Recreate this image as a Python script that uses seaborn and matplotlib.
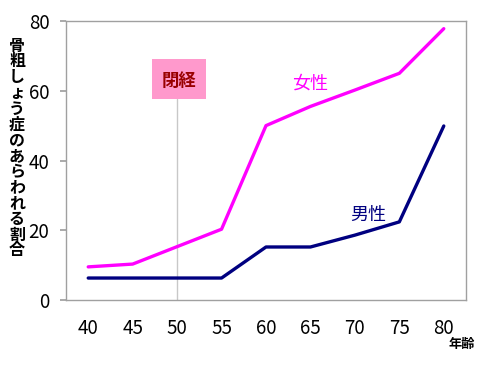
import matplotlib
matplotlib.use("Agg")
import matplotlib.pyplot as plt
import seaborn as sns
import pandas as pd
from matplotlib.patches import Rectangle

ages = ["40", "45", "50", "55", "60", "65", "70", "75", "80"]
female = [9.5, 10.3, 15.3, 20.3, 50.0, 55.5, 60.2, 65.0, 77.8]
male = [6.3, 6.3, 6.3, 6.3, 15.2, 15.2, 18.6, 22.4, 49.9]
yticks = [0, 20, 40, 60, 80]
ylabel = "骨粗しょう症のあらわれる割合"

sns.set_theme(style="white")
plt.rcParams['font.family'] = ['Noto Sans CJK JP', 'DejaVu Sans']

df = pd.DataFrame({
    "age": list(range(len(ages))) * 2,
    "value": female + male,
    "sex": ["女性"] * len(ages) + ["男性"] * len(ages),
})

fig = plt.figure(figsize=(4.95, 3.7), dpi=100)
ax = fig.add_axes([66 / 495, 1 - 300 / 370, 400 / 495, 279 / 370])

sns.lineplot(data=df, x="age", y="value", hue="sex",
             palette={"女性": "#FF00FF", "男性": "#000080"},
             linewidth=2.4, legend=False, ax=ax)

ax.set_xlim(-0.5, len(ages) - 0.5)
ax.set_ylim(0, 80)
ax.set_xticks(range(len(ages)))
ax.set_xticklabels(ages)
ax.set_yticks(yticks)
ax.set_xlabel("")
ax.set_ylabel("")
for s in ax.spines.values():
    s.set_color("#A0A0A0")
    s.set_linewidth(1.0)
ax.tick_params(axis="y", left=True, length=4, color="#A0A0A0", labelsize=13.5, pad=8)
ax.tick_params(axis="x", bottom=False, labelsize=13.5, pad=7)
for lab in ax.get_xticklabels() + ax.get_yticklabels():
    lab.set_color("black")

# menopause marker
ax.plot([2, 2], [0, 57.5], color="#C8C8C8", linewidth=1.0, zorder=1)
ax.add_patch(Rectangle((1.43, 57.5), 1.22, 11.5, facecolor="#FF99CC",
                       edgecolor="none", zorder=2))
ax.text(2.04, 62.8, "閉経", color="#990000", fontsize=12.5, fontweight="bold",
        ha="center", va="center", zorder=3)

ax.text(5.0, 62.0, "女性", color="#FF00FF", fontsize=13, ha="center", va="center")
ax.text(6.3, 24.5, "男性", color="#000080", fontsize=13, ha="center", va="center")

fig.text(17 / 495, 1 - 148 / 370, "\n".join(ylabel), fontsize=11.5, fontweight="bold",
         ha="center", va="center", linespacing=0.98, color="black")
fig.text(462 / 495, 1 - 344 / 370, "年齢", fontsize=9.5, fontweight="bold",
         ha="center", va="center", color="black")

fig.savefig("out.png", dpi=100, facecolor="white")
